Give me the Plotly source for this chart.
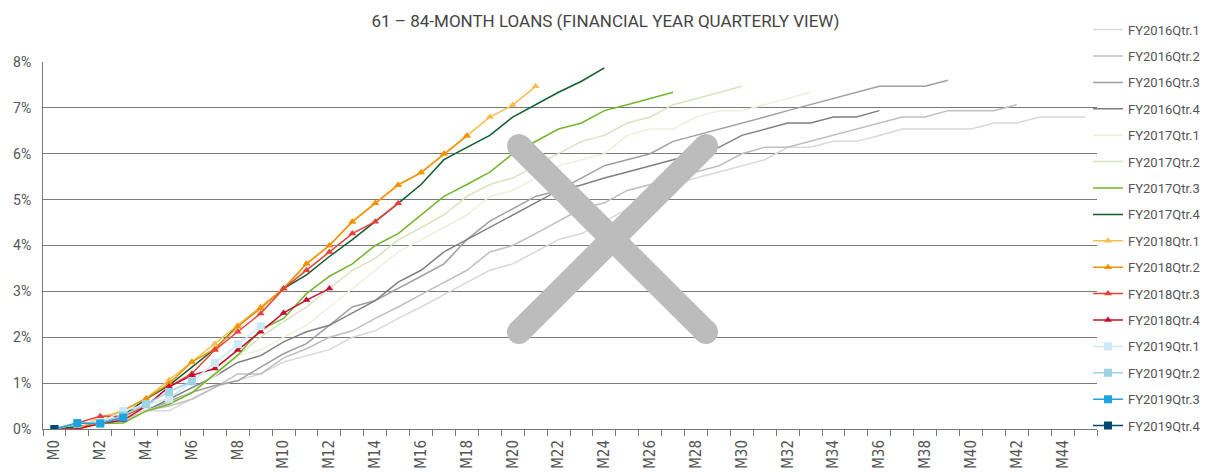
import plotly.graph_objects as go

months = [f"M{i}" for i in range(46)]

series_names = [
    "FY2016Qtr.1", "FY2016Qtr.2", "FY2016Qtr.3", "FY2016Qtr.4",
    "FY2017Qtr.1", "FY2017Qtr.2", "FY2017Qtr.3", "FY2017Qtr.4",
    "FY2018Qtr.1", "FY2018Qtr.2", "FY2018Qtr.3", "FY2018Qtr.4",
    "FY2019Qtr.1", "FY2019Qtr.2", "FY2019Qtr.3", "FY2019Qtr.4",
]

fy2016q1 = [0, 0.05, 0.12, 0.2, 0.4, 0.4, 0.66, 0.92, 1.06, 1.2, 1.46,
            1.6, 1.73, 2.0, 2.14, 2.41, 2.66, 2.93, 3.2, 3.46, 3.6, 3.86, 4.13, 4.26,
            4.52, 4.8, 5.07, 5.33, 5.47, 5.6, 5.74, 5.87, 6.14, 6.14, 6.27, 6.27,
            6.4, 6.54, 6.54, 6.54, 6.54, 6.67, 6.67, 6.8, 6.8, 6.8]
fy2016q2 = [0, 0.05, 0.12, 0.2, 0.4, 0.5, 0.65, 0.9, 1.2, 1.2, 1.55,
            1.75, 2.0, 2.14, 2.41, 2.66, 2.93, 3.2, 3.46, 3.86, 4.0, 4.26, 4.53, 4.8,
            4.93, 5.2, 5.33, 5.47, 5.6, 5.74, 6.0, 6.14, 6.14, 6.27, 6.4, 6.54,
            6.67, 6.8, 6.8, 6.94, 6.94, 6.94, 7.07]
fy2016q3 = [0, 0.05, 0.12, 0.25, 0.4, 0.6, 0.8, 0.95, 1.05, 1.35, 1.64,
            1.86, 2.26, 2.66, 2.8, 3.06, 3.33, 3.6, 4.13, 4.53, 4.8, 5.07, 5.2, 5.47,
            5.74, 5.87, 6.0, 6.27, 6.4, 6.54, 6.67, 6.8, 6.94, 7.07, 7.2, 7.34,
            7.47, 7.47, 7.47, 7.6]
fy2016q4 = [0, 0.05, 0.12, 0.25, 0.4, 0.65, 0.9, 1.15, 1.45, 1.6, 1.9,
            2.12, 2.26, 2.53, 2.8, 3.2, 3.46, 3.86, 4.13, 4.39, 4.67, 4.93, 5.2, 5.32,
            5.47, 5.6, 5.74, 5.87, 6.0, 6.14, 6.4, 6.54, 6.67, 6.67, 6.8, 6.8, 6.94]
fy2017q1 = [0, 0.05, 0.12, 0.25, 0.4, 0.55, 0.8, 1.15, 1.6, 1.72, 2.0,
            2.26, 2.66, 3.06, 3.46, 3.86, 4.12, 4.39, 4.67, 5.07, 5.2, 5.47, 5.74, 5.87,
            6.0, 6.4, 6.54, 6.54, 6.8, 6.94, 6.94, 7.07, 7.2, 7.34]
fy2017q2 = [0, 0.05, 0.12, 0.15, 0.4, 0.55, 0.8, 1.2, 1.6, 2.0, 2.34,
            2.66, 3.06, 3.46, 3.72, 4.12, 4.39, 4.67, 5.07, 5.33, 5.47, 5.74, 6.0, 6.27,
            6.4, 6.67, 6.8, 7.07, 7.2, 7.34, 7.47]
fy2017q3 = [0, 0, 0.12, 0.13, 0.39, 0.54, 0.79, 1.21, 1.61, 2.17, 2.41,
            2.95, 3.33, 3.6, 4.0, 4.26, 4.67, 5.07, 5.33, 5.6, 6.0, 6.27, 6.54, 6.67,
            6.94, 7.07, 7.2, 7.34]
fy2017q4 = [0, 0.05, 0.12, 0.3, 0.65, 0.95, 1.35, 1.75, 2.25, 2.65, 3.06,
            3.36, 3.76, 4.13, 4.52, 4.92, 5.33, 5.87, 6.14, 6.4, 6.8, 7.07, 7.34, 7.58, 7.87]
fy2018q1 = [0, 0, 0.25, 0.4, 0.67, 1.07, 1.46, 1.86, 2.26, 2.66, 3.06,
            3.6, 4.0, 4.52, 4.92, 5.32, 5.59, 6.0, 6.39, 6.8, 7.06, 7.47]
fy2018q2 = [0, 0, 0.15, 0.4, 0.66, 0.99, 1.46, 1.75, 2.23, 2.63, 3.06,
            3.6, 4.0, 4.52, 4.92, 5.32, 5.59, 6.0, 6.39]
fy2018q3 = [0, 0.13, 0.28, 0.28, 0.5, 0.92, 1.21, 1.72, 2.12, 2.52, 3.06,
            3.46, 3.86, 4.26, 4.52, 4.92]
fy2018q4 = [0, 0, 0.12, 0.19, 0.5, 0.92, 1.17, 1.32, 1.72, 2.12, 2.53, 2.81, 3.06]
fy2019q1 = [0, 0.12, 0.15, 0.39, 0.54, 0.66, 1.04, 1.44, 1.85, 2.24]
fy2019q2 = [0, 0.12, 0.12, 0.3, 0.54, 0.81, 1.04]
fy2019q3 = [0, 0.13, 0.12, 0.25]
fy2019q4 = [0]

series_values = [fy2016q1, fy2016q2, fy2016q3, fy2016q4,
                 fy2017q1, fy2017q2, fy2017q3, fy2017q4,
                 fy2018q1, fy2018q2, fy2018q3, fy2018q4,
                 fy2019q1, fy2019q2, fy2019q3, fy2019q4]

colors = ["#d9d9d9", "#bfbfbf", "#a0a0a0", "#808080",
          "#ebf1de", "#d7e4bd", "#72b52c", "#0f5e2c",
          "#fbbd4f", "#f39200", "#e8413a", "#c8102e",
          "#cfe8f5", "#9dd3e2", "#1ea3e0", "#004a72"]
symbols = [None] * 8 + ["triangle-up"] * 4 + ["square"] * 4

yticks = [0, 1, 2, 3, 4, 5, 6, 7, 8]
ytick_text = [f"{v}%" for v in yticks]
xtick_text = [m if i % 2 == 0 else "" for i, m in enumerate(months)]

fig = go.Figure()
for i, (name, vals, col, sym) in enumerate(zip(series_names, series_values, colors, symbols)):
    if sym is None:
        fig.add_trace(go.Scatter(
            x=months[:len(vals)], y=vals, name=name, mode="lines",
            line=dict(color=col, width=1.5), legendgroup=name))
    else:
        fig.add_trace(go.Scatter(
            x=months[:len(vals)], y=vals, name=name, mode="lines+markers",
            line=dict(color=col, width=1.5),
            marker=dict(symbol=sym, color=col, size=8 if sym == "square" else 7),
            legendgroup=name))

# big grey "X" watermark (paper coordinates)
L, R_, T, B = 43, 1097, 62, 429
def px(x):
    return (x - L) / (R_ - L)
def py(y):
    return (B - y) / (B - T)

xc = "#bcbcbc"
segments = [((519, 146), (706, 332)), ((519, 332), (706, 146))]
shapes = []
for (x0, y0), (x1, y1) in segments:
    shapes.append(dict(type="line", xref="paper", yref="paper",
                       x0=px(x0), y0=py(y0), x1=px(x1), y1=py(y1),
                       line=dict(color=xc, width=24), layer="above"))
    for (cx, cy) in [(x0, y0), (x1, y1)]:
        shapes.append(dict(type="circle", xref="paper", yref="paper",
                           xsizemode="pixel", ysizemode="pixel",
                           xanchor=px(cx), yanchor=py(cy),
                           x0=-12, x1=12, y0=-12, y1=12,
                           fillcolor=xc, line=dict(width=0), layer="above"))

fig.update_layout(
    width=1211, height=474,
    margin=dict(l=43, r=114, t=62, b=45, autoexpand=False),
    paper_bgcolor="white", plot_bgcolor="white",
    font=dict(family="Roboto, Arial, sans-serif", size=13, color="#555555"),
    title=dict(text="61 – 84-MONTH LOANS (FINANCIAL YEAR QUARTERLY VIEW)",
               x=0.5, xanchor="center", y=0.955, yanchor="middle",
               font=dict(size=17, color="#444444")),
    showlegend=True,
    legend=dict(x=0.9915, xanchor="left", y=1.129, yanchor="top",
                traceorder="grouped", tracegroupgap=6.5, itemwidth=30,
                maxheight=470,
                font=dict(size=13, color="#555555"), bgcolor="rgba(0,0,0,0)"),
    shapes=shapes,
    xaxis=dict(type="category", categoryorder="array", categoryarray=months,
               range=[-0.5, 45.5], tickmode="array", tickvals=months, ticktext=xtick_text,
               tickangle=-90, tickson="boundaries", ticks="outside", ticklen=6,
               tickcolor="#777777", showline=True, linecolor="#777777", linewidth=1,
               showgrid=False, zeroline=False, ticklabelstandoff=4, automargin=False,
               tickfont=dict(family="Liberation Sans Narrow, DejaVu Sans Condensed, Roboto",
                             size=15, color="#555555")),
    yaxis=dict(range=[0, 8], tickvals=yticks, ticktext=ytick_text,
               showgrid=True, gridcolor="#7a7a7a", gridwidth=1,
               showline=True, linecolor="#777777", linewidth=1, automargin=False,
               zeroline=False, ticks="", ticklabelstandoff=8,
               tickfont=dict(size=14, color="#555555")),
)

fig.write_html("out.html")
